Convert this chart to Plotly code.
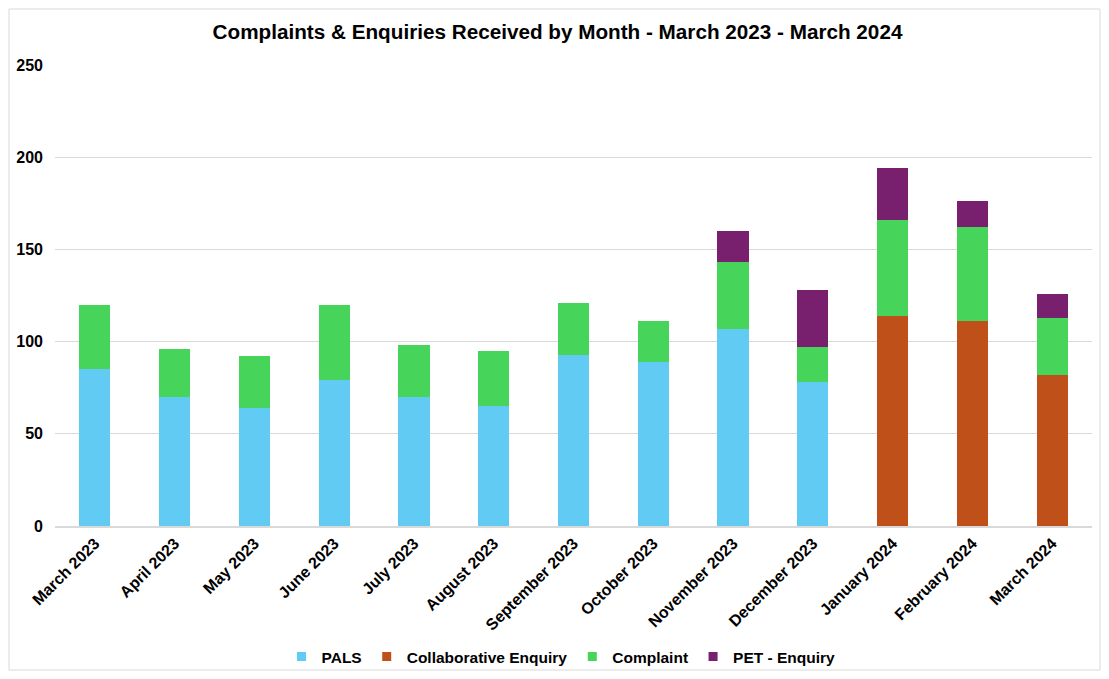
import plotly.graph_objects as go

# Data
months = ["March 2023", "April 2023", "May 2023", "June 2023", "July 2023",
          "August 2023", "September 2023", "October 2023", "November 2023",
          "December 2023", "January 2024", "February 2024", "March 2024"]

pals = [85, 70, 64, 79, 70, 65, 93, 89, 107, 78, 0, 0, 0]
collaborative = [0, 0, 0, 0, 0, 0, 0, 0, 0, 0, 114, 111, 82]
complaint = [35, 26, 28, 41, 28, 30, 28, 22, 36, 19, 52, 51, 31]
pet_enquiry = [0, 0, 0, 0, 0, 0, 0, 0, 17, 31, 28, 14, 13]

series = [
    ("PALS", pals, "#61CBF3"),
    ("Collaborative Enquiry", collaborative, "#C0501A"),
    ("Complaint", complaint, "#47D45A"),
    ("PET - Enquiry", pet_enquiry, "#78206E"),
]

FONT = "Liberation Sans, Arial, sans-serif"

fig = go.Figure()
for name, vals, colour in series:
    fig.add_trace(go.Bar(x=months, y=vals, name=name, showlegend=False,
                         marker=dict(color=colour, line=dict(width=0))))

# small square legend keys like the Excel legend
for name, vals, colour in series:
    fig.add_trace(go.Scatter(x=[None], y=[None], name=name, mode="markers",
                             marker=dict(symbol="square", size=9, color=colour)))

# page body has an 8px margin, so the figure is 16px smaller than the window
W, H = 1093, 663
fig.update_layout(
    barmode="stack",
    bargap=0.61,
    width=W, height=H,
    paper_bgcolor="white", plot_bgcolor="white",
    font=dict(family=FONT, color="#000000"),
    title=dict(text="Complaints & Enquiries Received by Month - March 2023 - March 2024",
               x=549.5 / W, xanchor="center", xref="container",
               y=1 - 24 / H, yanchor="middle",
               font=dict(size=20.7, weight="bold", color="#000000")),
    margin=dict(l=47, r=9, t=57, b=145, autoexpand=False),
    legend=dict(orientation="h", x=553 / W, xanchor="center", xref="container",
                y=14 / H, yanchor="middle", yref="container",
                bgcolor="rgba(0,0,0,0)",
                font=dict(size=15.5, weight="bold"), traceorder="normal",
                itemwidth=30, tracegroupgap=0),
    showlegend=True,
)

fig.update_xaxes(
    tickangle=-45,
    tickfont=dict(size=16, weight="bold"),
    showline=True, linecolor="#d9d9d9", linewidth=1.5,
    ticks="", showgrid=False,
)

fig.update_yaxes(
    range=[0, 250], dtick=50,
    tickfont=dict(size=16, weight="bold"),
    showgrid=True, gridcolor="#d9d9d9", gridwidth=1,
    zeroline=False, showline=False, ticks="", ticklabelstandoff=11,
)

# thin frame around the whole chart, as in the original export
plot_w = W - 47 - 9
plot_h = H - 57 - 145
fig.add_shape(type="rect", xref="paper", yref="paper",
              x0=-46 / plot_w, x1=1 + 8 / plot_w,
              y0=-144 / plot_h, y1=1 + 56 / plot_h,
              line=dict(color="#d9d9d9", width=1))

fig.write_html("out.html")
